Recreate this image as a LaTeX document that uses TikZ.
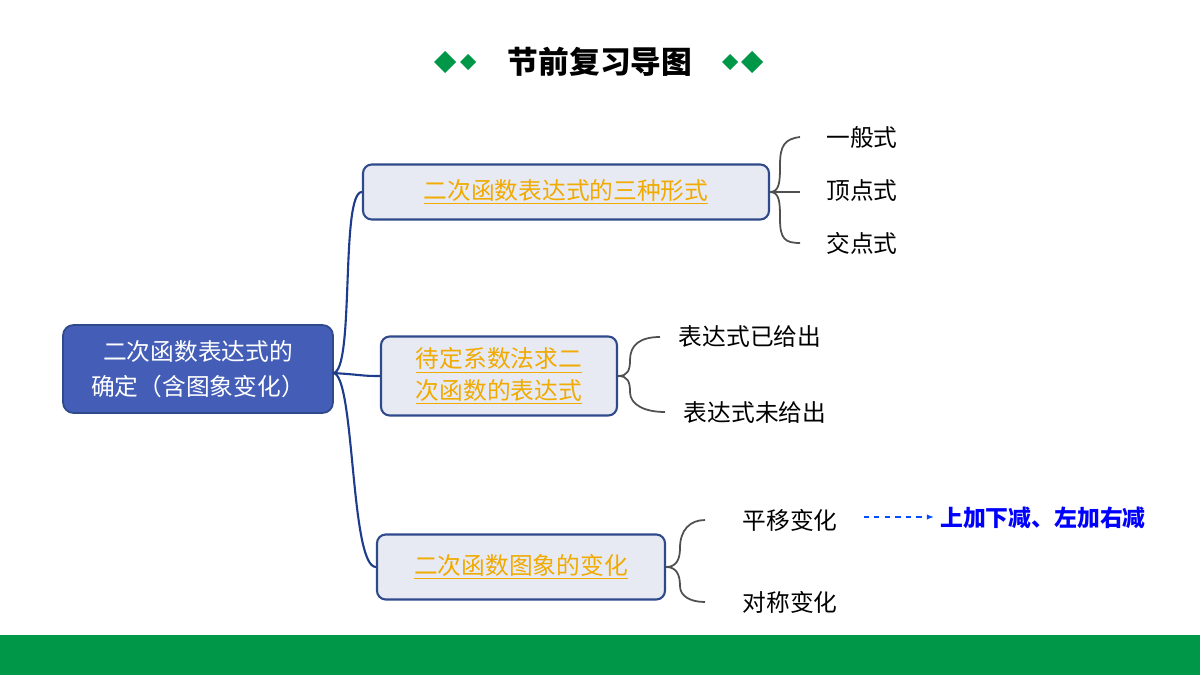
\documentclass[tikz,border=0pt]{standalone}
\usepackage{fontspec}
\setmainfont{Noto Sans CJK SC}
\newfontfamily\cjk{Noto Sans CJK SC}
\usetikzlibrary{arrows.meta}
\definecolor{gband}{RGB}{0,152,72}
\definecolor{rootblue}{RGB}{68,94,184}
\definecolor{boxfill}{RGB}{232,234,243}
\definecolor{boxline}{RGB}{47,74,138}
\definecolor{linkblue}{RGB}{30,60,140}
\definecolor{orangetxt}{RGB}{240,170,0}
\definecolor{bracegray}{RGB}{80,80,80}
\tikzset{
 leaf/.style={boxline, draw=boxline, fill=boxfill, rounded corners=5pt, line width=1.2pt, text=orangetxt, align=center, font=\fontsize{13.5}{18}\selectfont, inner sep=0pt},
 lab/.style={font=\fontsize{13.5}{16}\selectfont, text=black},
 link/.style={draw=linkblue, line width=1.2pt},
 br/.style={draw=bracegray, line width=1pt},
}
\newcommand{\ul}[1]{\underline{#1}}
\begin{document}
\begin{tikzpicture}[x=0.02cm,y=-0.02cm]
\useasboundingbox (0,0) rectangle (1200,675);
\fill[white] (0,0) rectangle (1200,675);
\fill[gband] (0,635) rectangle (1200,675);
% title
\node[font=\fontsize{17.5}{20}\selectfont\bfseries] (title) at (600,62) {节前复习导图};
\fill[gband] (434,62) -- (445,51) -- (456,62) -- (445,73) -- cycle;
\fill[gband] (460,62) -- (468,54) -- (476,62) -- (468,70) -- cycle;
\fill[gband] (722,62) -- (730,54) -- (738,62) -- (730,70) -- cycle;
\fill[gband] (741,62) -- (752,51) -- (763,62) -- (752,73) -- cycle;
% root
\node[fill=rootblue, draw=boxline, line width=1pt, rounded corners=6pt, minimum width=270*0.02cm, minimum height=88*0.02cm, text=white, align=center, font=\fontsize{13.5}{20}\selectfont] (root) at (198,369) {二次函数表达式的\\确定（含图象变化）};
% boxes
\node[leaf, minimum width=406*0.02cm, minimum height=55*0.02cm] (b1) at (566,192) {\ul{二次函数表达式的三种形式}};
\node[leaf, minimum width=236*0.02cm, minimum height=79*0.02cm] (b2) at (499,376) {\ul{待定系数法求二}\\\ul{次函数的表达式}};
\node[leaf, minimum width=288*0.02cm, minimum height=65*0.02cm] (b3) at (521,567) {\ul{二次函数图象的变化}};
\coordinate (r) at (333,373);
\draw[link] (r) .. controls (355,373) and (340,192) .. (b1.west);
\draw[link] (r) .. controls (365,375) and (360,376) .. (b2.west);
\draw[link] (r) .. controls (355,373) and (350,567) .. (b3.west);
% labels
\node[lab] (l1) at (862,137) {一般式};
\node[lab] (l2) at (862,191) {顶点式};
\node[lab] (l3) at (862,243) {交点式};
\node[lab] (l4) at (750,337) {表达式已给出};
\node[lab] (l5) at (755,413) {表达式未给出};
\node[lab] (l6) at (790,520) {平移变化};
\node[lab] (l7) at (790,602) {对称变化};
% braces
\draw[br] (b1.east) .. controls (780,192) and (780,180) .. (780,165) .. controls (780,145) and (785,139) .. (800,137);
\draw[br] (b1.east) -- (800,192);
\draw[br] (b1.east) .. controls (780,192) and (780,204) .. (780,219) .. controls (780,239) and (785,243) .. (800,243);
\draw[br] (b2.east) .. controls (628,376) and (630,370) .. (630,360) .. controls (630,345) and (640,337) .. (660,337);
\draw[br] (b2.east) .. controls (628,376) and (630,382) .. (630,392) .. controls (630,405) and (645,412) .. (665,412);
\draw[br] (b3.east) .. controls (676,567) and (680,560) .. (680,548) .. controls (680,530) and (690,520) .. (705,520);
\draw[br] (b3.east) .. controls (676,567) and (680,574) .. (680,586) .. controls (680,596) and (690,602) .. (705,602);
% arrow
\node[font=\fontsize{13}{16}\selectfont\bfseries, text=blue] (rule) at (1043,518) {上加下减、左加右减};
\draw[blue!70!cyan, dashed, line width=0.9pt, -{Latex[length=4pt]}] (l6.east) ++(20,-3) coordinate (a0) -- (rule.west|-a0);
\end{tikzpicture}
\end{document}
